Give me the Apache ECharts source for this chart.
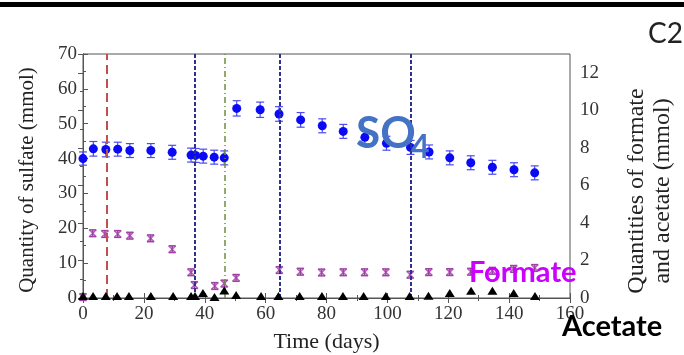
<!DOCTYPE html>
<html>
<head>
<meta charset="utf-8">
<script src="https://cdn.jsdelivr.net/npm/echarts@6/dist/echarts.min.js"></script>
<style>
  html, body { margin: 0; padding: 0; background: #fff; }
  #main { width: 684px; height: 355px; }
</style>
</head>
<body>
<div id="main"></div>
<script>
// sulfate (left axis, mmol)
var sulfateDays = [0, 3.4, 7.5, 11.4, 15.4, 22.3, 29.3, 35.5, 37, 39.5, 43.1, 46.4, 50.5, 58.2, 64.4, 71.5, 78.6, 85.5, 92.6, 99.7, 107.6, 113.7, 120.5, 127.4, 134.5, 141.6, 148.4];
var sulfateVals = [40.0, 42.8, 42.6, 42.7, 42.3, 42.3, 41.8, 41.0, 40.9, 40.7, 40.4, 40.2, 54.4, 54.0, 52.8, 51.1, 49.4, 47.8, 46.1, 44.4, 43.2, 41.9, 40.2, 38.8, 37.5, 36.8, 35.9];
var sulfateErr  = [1.9, 2.1, 2.1, 2.0, 2.0, 2.0, 2.0, 2.0, 2.0, 2.0, 2.0, 2.0, 2.2, 2.2, 2.1, 2.1, 2.0, 2.0, 2.0, 2.0, 2.0, 2.0, 2.0, 2.0, 2.0, 2.0, 2.0];

// formate (right axis, mmol)
var formateDays = [0, 3.2, 7.2, 11.4, 15.4, 22.2, 29.3, 35.5, 36.6, 43.3, 46.4, 50.3, 64.5, 71.4, 78.4, 85.5, 92.5, 99.5, 107.5, 113.6, 120.5, 127.4, 134.5, 141.5, 148.4];
var formateVals = [0.05, 3.45, 3.41, 3.41, 3.32, 3.18, 2.6, 1.37, 0.69, 0.64, 0.77, 1.07, 1.49, 1.4, 1.36, 1.37, 1.37, 1.37, 1.24, 1.38, 1.38, 1.4, 1.45, 1.55, 1.6];

// acetate (right axis, mmol)
var acetateDays = [0, 3.3, 7.5, 11.2, 15.1, 22.3, 29.6, 35.5, 36.8, 39.4, 43.2, 46.4, 50.3, 58.5, 64.2, 71.2, 78.5, 85.4, 92.2, 99.5, 107.3, 113.5, 120.5, 127.5, 134.5, 141.5, 148.5];
var acetateVals = [0.1, 0.1, 0.1, 0.1, 0.1, 0.1, 0.1, 0.1, 0.1, 0.27, 0.05, 0.4, 0.16, 0.1, 0.1, 0.1, 0.1, 0.1, 0.1, 0.1, 0.1, 0.12, 0.27, 0.39, 0.39, 0.27, 0.1];

// event markers (days)
var redLine = [7.8];
var blueLines = [36.8, 64.7, 107.6];
var greenLine = [46.6];

var serif = '"Liberation Serif", "DejaVu Serif", serif';

var chart = echarts.init(document.getElementById('main'), null, { renderer: 'canvas' });

function pairs(xs, ys) {
    return xs.map(function (x, i) { return [x, ys[i]]; });
}

// error bar drawer
function errBar(halfCap, color, width) {
    return function (params, api) {
        var x = api.value(0), lo = api.value(1), hi = api.value(2);
        var pLo = api.coord([x, lo]);
        var pHi = api.coord([x, hi]);
        var st = { stroke: color, lineWidth: width };
        return {
            type: 'group',
            children: [
                { type: 'line', shape: { x1: pLo[0], y1: pLo[1], x2: pHi[0], y2: pHi[1] }, style: st },
                { type: 'line', shape: { x1: pLo[0] - halfCap, y1: pLo[1], x2: pLo[0] + halfCap, y2: pLo[1] }, style: st },
                { type: 'line', shape: { x1: pHi[0] - halfCap, y1: pHi[1], x2: pHi[0] + halfCap, y2: pHi[1] }, style: st }
            ]
        };
    };
}

var sulfateBars = sulfateDays.map(function (d, i) {
    return [d, sulfateVals[i] - sulfateErr[i], sulfateVals[i] + sulfateErr[i]];
});
var formateBars = formateDays.map(function (d, i) {
    return [d, formateVals[i] - 0.18, formateVals[i] + 0.18];
});

var vLines = [];
redLine.forEach(function (d) {
    vLines.push({ xAxis: d, lineStyle: { color: '#c0504d', width: 2, type: [9, 5] } });
});
blueLines.forEach(function (d) {
    vLines.push({ xAxis: d, lineStyle: { color: '#2e3192', width: 2, type: [4, 2] } });
});
greenLine.forEach(function (d) {
    vLines.push({ xAxis: d, lineStyle: { color: '#6f8f3f', width: 1.5, type: [6, 3, 1, 3] } });
});

var tickStyle = { color: '#555' };

var option = {
    backgroundColor: '#fff',
    animation: false,
    grid: {
        left: 83,
        right: 114,
        top: 54,
        bottom: 57,
        outerBoundsMode: 'none',
        containLabel: false,
        show: true,
        borderColor: '#555',
        borderWidth: 1
    },
    xAxis: [
        {
            type: 'value',
            min: 0,
            max: 160,
            interval: 20,
            name: 'Time (days)',
            nameLocation: 'middle',
            nameGap: 33,
            nameTextStyle: { fontFamily: serif, fontSize: 22, color: '#222' },
            axisLine: { show: true, onZero: false, lineStyle: tickStyle },
            axisTick: { inside: true, length: 5, lineStyle: tickStyle },
            minorTick: { show: true, splitNumber: 2, length: 3, lineStyle: tickStyle },
            axisLabel: { fontFamily: serif, fontSize: 19, color: '#333', margin: 7 },
            splitLine: { show: false }
        },
        {
            type: 'value',
            position: 'top',
            min: 0,
            max: 160,
            interval: 20,
            axisLine: { show: true, lineStyle: tickStyle },
            axisTick: { inside: true, length: 5, lineStyle: tickStyle },
            minorTick: { show: true, splitNumber: 2, length: 3, lineStyle: tickStyle },
            axisLabel: { show: false },
            splitLine: { show: false }
        }
    ],
    yAxis: [
        {
            type: 'value',
            min: 0,
            max: 70,
            interval: 10,
            name: 'Quantity of sulfate (mmol)',
            nameLocation: 'middle',
            nameGap: 45,
            nameTextStyle: { fontFamily: serif, fontSize: 21, color: '#222', padding: [0, 8, 0, 0] },
            axisLine: { show: true, lineStyle: tickStyle },
            axisTick: { inside: true, length: 5, lineStyle: tickStyle },
            minorTick: { show: true, splitNumber: 2, length: 3, lineStyle: tickStyle },
            axisLabel: { fontFamily: serif, fontSize: 19, color: '#333', margin: 6 },
            splitLine: { show: false }
        },
        {
            type: 'value',
            min: 0,
            max: 13,
            interval: 2,
            position: 'right',
            name: 'Quantities of formate\nand acetate (mmol)',
            nameLocation: 'middle',
            nameGap: 54,
            nameTextStyle: { fontFamily: serif, fontSize: 24, color: '#222', lineHeight: 26, padding: [0, 30, 0, 0] },
            axisLine: { show: true, lineStyle: tickStyle },
            axisTick: { inside: true, length: 5, lineStyle: tickStyle },
            minorTick: { show: true, splitNumber: 2, length: 3, lineStyle: tickStyle },
            axisLabel: {
                fontFamily: serif, fontSize: 19, color: '#333', margin: 10,
                formatter: function (v) { return v > 12 ? '' : v; }
            },
            splitLine: { show: false }
        }
    ],
    series: [
        {
            name: 'events',
            type: 'line',
            data: [],
            symbol: 'none',
            markLine: {
                silent: true,
                symbol: ['none', 'none'],
                label: { show: false },
                data: vLines
            }
        },
        {
            name: 'sulfate err',
            type: 'custom',
            yAxisIndex: 0,
            renderItem: errBar(4, '#4b4bf0', 1.2),
            data: sulfateBars,
            z: 3
        },
        {
            name: 'sulfate',
            type: 'scatter',
            yAxisIndex: 0,
            symbol: 'circle',
            symbolSize: 9,
            itemStyle: { color: '#0a0af5', opacity: 1 },
            data: pairs(sulfateDays, sulfateVals),
            z: 4
        },
        {
            name: 'formate err',
            type: 'custom',
            yAxisIndex: 1,
            renderItem: errBar(3.5, '#a040a6', 1.5),
            data: formateBars,
            z: 3
        },
        {
            name: 'formate',
            type: 'scatter',
            yAxisIndex: 1,
            symbol: 'path://M0,0 L10,10 M10,0 L0,10',
            symbolSize: 7,
            itemStyle: { color: 'none', borderColor: '#a040a6', borderWidth: 1.6 },
            data: pairs(formateDays, formateVals),
            z: 4
        },
        {
            name: 'acetate',
            type: 'scatter',
            yAxisIndex: 1,
            symbol: 'triangle',
            symbolSize: [10, 8],
            itemStyle: { color: '#000', opacity: 1 },
            data: pairs(acetateDays, acetateVals),
            z: 5
        }
    ],
    graphic: [
        { type: 'rect', left: 0, top: 2, z: 100, shape: { width: 684, height: 5 }, style: { fill: '#000' } },
        { type: 'text', x: 648, y: 34, z: 100, style: { text: 'C2', fontFamily: 'Lato', fontSize: 28, fill: '#222', verticalAlign: 'middle' } },
        { type: 'text', x: 356, y: 134, z: 100, style: { text: 'SO', fontFamily: 'Lato', fontWeight: 'bold', fontSize: 44, fill: '#4472c4', verticalAlign: 'middle' } },
        { type: 'text', x: 411, y: 148, z: 100, style: { text: '4', fontFamily: 'Lato', fontWeight: 'bold', fontSize: 32, fill: '#4472c4', verticalAlign: 'middle' } },
        { type: 'text', x: 469, y: 273, z: 100, style: { text: 'Formate', fontFamily: 'Lato', fontWeight: 'bold', fontSize: 29, fill: '#cc00ff', verticalAlign: 'middle' } },
        { type: 'text', x: 562, y: 327, z: 100, style: { text: 'Acetate', fontFamily: 'Lato', fontWeight: 'bold', fontSize: 29, fill: '#000', verticalAlign: 'middle' } }
    ]
};

chart.setOption(option);
</script>
</body>
</html>
